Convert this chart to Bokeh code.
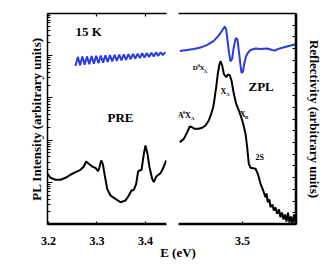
from bokeh.plotting import figure
from bokeh.models import Range1d, LinearAxis, FixedTicker, Label, Div, LinearScale, LogScale, Span
from bokeh.layouts import row, column
from bokeh.embed import file_html
from bokeh.resources import INLINE

# ---------------- data ----------------
pl_left_e = [3.198, 3.2041, 3.2144, 3.2247, 3.2351, 3.2454, 3.2557, 3.266, 3.2729, 3.2777,
             3.2831, 3.29, 3.2969, 3.3024, 3.3052, 3.3086, 3.312, 3.3161, 3.321, 3.3278,
             3.3381, 3.3485, 3.3588, 3.3656, 3.3711, 3.3759, 3.3808, 3.3849, 3.3918, 3.3966,
             3.4, 3.4041, 3.4082, 3.4138, 3.4171, 3.4221, 3.4309, 3.4357, 3.4427]
pl_left_i = [15.9, 12.8, 11.5, 11.5, 12.8, 15.1, 17.4, 19.8, 23.7, 31.1,
             27.4, 23.7, 22.0, 18.3, 22.8, 32.9, 27.4, 14.5, 7.0, 4.87,
             4.06, 3.37, 3.7, 4.87, 6.4, 6.6, 9.2, 18.3, 19.8, 47.3,
             74.5, 47.3, 22.8, 12.1, 10.1, 13.7, 16.4, 20.9, 32.9]
pl_right_e = [3.4235, 3.4284, 3.4326, 3.4357, 3.4387, 3.4415, 3.4467, 3.4509, 3.4549, 3.4589,
              3.4618, 3.4643, 3.4659, 3.4679, 3.4699, 3.4716, 3.4732, 3.4752, 3.4772, 3.4801,
              3.4825, 3.4845, 3.4866, 3.4894, 3.4923, 3.4955, 3.4984, 3.5008, 3.5037, 3.5057,
              3.5077, 3.5098, 3.5159, 3.5187, 3.522, 3.5252, 3.528, 3.5293, 3.5309, 3.5329,
              3.5341, 3.5366, 3.5382, 3.5402, 3.5423, 3.5445, 3.5463, 3.5482, 3.55, 3.5518,
              3.5537, 3.5555, 3.5573, 3.5591, 3.561, 3.5628, 3.5646, 3.5659]
pl_right_i = [89, 107, 154, 210, 202, 185, 185, 196, 222, 291,
              420, 603, 952, 1795, 3720, 5860, 7410, 5860, 3720, 3100,
              3590, 3400, 2585, 1250, 725, 503, 349, 243, 141, 68,
              27.4, 22.0, 20.9, 15.9, 9.2, 6.4, 4.44, 5.43, 3.37, 3.91,
              2.57, 2.98, 2.15, 2.53, 1.79, 2.27, 1.49, 1.92, 1.31, 1.73,
              1.18, 1.92, 1.11, 1.55, 1.06, 1.73, 1.11, 1.31]
refl_left_e = [3.2557, 3.2604, 3.2652, 3.2699, 3.2746, 3.2794, 3.2841, 3.2889, 3.2936, 3.2984,
               3.3031, 3.3078, 3.3126, 3.3173, 3.3221, 3.3268, 3.3315, 3.3363, 3.341, 3.3458,
               3.3505, 3.3553, 3.36, 3.3647, 3.3695, 3.3742, 3.379, 3.3837, 3.3885, 3.3932,
               3.3979, 3.4027, 3.4074, 3.4122, 3.4169, 3.4216, 3.4264, 3.4311, 3.4359, 3.4406]
refl_left_r = [13.52, 14.30, 13.58, 14.33, 13.62, 14.34, 13.67, 14.37, 13.71, 14.39,
               13.76, 14.41, 13.81, 14.44, 13.87, 14.45, 13.91, 14.48, 13.96, 14.50,
               14.00, 14.52, 14.05, 14.54, 14.10, 14.56, 14.15, 14.58, 14.20, 14.61,
               14.24, 14.62, 14.29, 14.65, 14.33, 14.68, 14.39, 14.69, 14.44, 14.72]
refl_right_e = [3.4235, 3.4326, 3.4406, 3.4488, 3.457, 3.465, 3.4711, 3.4752, 3.4784, 3.4801,
                3.4817, 3.4835, 3.4854, 3.4874, 3.4894, 3.4918, 3.4939, 3.4957, 3.4976, 3.4988,
                3.5006, 3.5024, 3.5043, 3.5065, 3.5098, 3.5159, 3.522, 3.5301, 3.5362, 3.5402,
                3.543, 3.5484, 3.5565, 3.5665]
refl_right_r = [14.80, 14.89, 14.97, 15.10, 15.32, 15.66, 16.13, 16.55, 16.89, 16.64,
                15.70, 14.68, 13.91, 14.16, 15.13, 15.91, 15.78, 14.70, 13.57, 12.93,
                13.05, 13.82, 14.33, 14.63, 14.89, 15.02, 14.97, 15.02, 14.89, 14.85,
                14.96, 15.08, 15.23, 15.40]

x_ticks_left = [3.2, 3.3, 3.4]
x_ticks_right = [3.5]
pl_decades = [1, 10, 100, 1000, 10000, 100000]
pl_minor = [m * d for d in pl_decades[:-1] for m in range(2, 10)]
refl_ticks = list(range(1, 18))

FONT = "Liberation Serif"
BLUE = "#2b3bdc"


def base_axis(ax, labels=True, tick_in=3):
    ax.axis_line_color = "black"
    ax.axis_line_width = 1.5
    ax.major_tick_line_color = "black"
    ax.major_tick_line_width = 1.2
    ax.minor_tick_line_color = "black"
    ax.major_tick_in = tick_in
    ax.major_tick_out = 0
    ax.minor_tick_in = 2
    ax.minor_tick_out = 0
    ax.major_label_text_font = FONT
    ax.major_label_text_font_style = "bold"
    ax.axis_label_text_font = FONT
    ax.axis_label_text_font_style = "bold"
    ax.axis_label_text_font_size = "13px"
    ax.axis_label_text_color = "black"
    if labels:
        ax.major_label_text_font_size = "12px"
        ax.major_label_text_color = "black"
        ax.major_label_standoff = 12
    else:
        ax.major_label_text_font_size = "2px"
        ax.major_label_text_color = None
        ax.major_label_standoff = 0


def add_text(p, x, y, text, size=13, yname="default"):
    p.add_layout(Label(x=x, y=y, text=text, text_font=FONT, text_font_style="bold",
                       text_font_size=f"{size}px", text_baseline="middle", y_range_name=yname,
                       text_align="left", text_color="black"))


def add_compound(p, x, y, parts, yname="default"):
    for txt, dx, dy, size in parts:
        p.add_layout(Label(x=x, y=y, x_offset=dx, y_offset=dy, text=txt, text_font=FONT,
                           text_font_style="bold", text_font_size=f"{size}px", y_range_name=yname,
                           text_baseline="middle", text_align="left", text_color="black"))


def edge(p, loc, dim, yname="default"):
    p.add_layout(Span(location=loc, dimension=dim, y_range_name=yname,
                      line_color="black", line_width=1.5))


# ---------------- left panel: PL on the default (log) range ----------------
pL = figure(width=172, height=248, x_range=Range1d(3.198, 3.4433), y_range=Range1d(1, 1e5),
            y_axis_type="log", x_axis_location="below", y_axis_location="left",
            output_backend="svg", toolbar_location=None,
            min_border_left=47, min_border_right=6, min_border_top=13, min_border_bottom=24)
pL.extra_y_ranges = {"refl": Range1d(0, 18)}
pL.extra_y_scales = {"refl": LinearScale()}
pL.outline_line_color = None
pL.grid.visible = False

axL = pL.yaxis[0]
axL.ticker = FixedTicker(ticks=pl_decades, minor_ticks=pl_minor)
axL.axis_label = "PL Intensity (arbitrary units)"
base_axis(axL, labels=False, tick_in=5)
axL.minor_tick_in = 3
axL.axis_label_standoff = 4

axLb = pL.xaxis[0]
axLb.ticker = FixedTicker(ticks=x_ticks_left)
base_axis(axLb, labels=True)

axLt = LinearAxis(ticker=FixedTicker(ticks=x_ticks_left))
base_axis(axLt, labels=False)
pL.add_layout(axLt, "above")

pL.line(pl_left_e, pl_left_i, line_color="black", line_width=2)
pL.line(refl_left_e, refl_left_r, y_range_name="refl", line_color=BLUE, line_width=2)
edge(pL, 1.06, "width")

add_text(pL, 3.2557, 37450, "15 K")
add_text(pL, 3.3216, 334, "PRE")

# ---------------- right panel: reflectivity on the default (linear) range ----------------
pR = figure(width=154, height=248, x_range=Range1d(3.42195, 3.56585), y_range=Range1d(0, 18),
            x_axis_location="below", y_axis_location="right",
            output_backend="svg", toolbar_location=None,
            min_border_left=6, min_border_right=30, min_border_top=13, min_border_bottom=24)
pR.extra_y_ranges = {"pl": Range1d(1, 1e5)}
pR.extra_y_scales = {"pl": LogScale()}
pR.outline_line_color = None
pR.grid.visible = False

axRb = pR.xaxis[0]
axRb.ticker = FixedTicker(ticks=x_ticks_right)
base_axis(axRb, labels=True)

axRt = LinearAxis(ticker=FixedTicker(ticks=x_ticks_right))
base_axis(axRt, labels=False, tick_in=0)
pR.add_layout(axRt, "above")

axRr = pR.yaxis[0]
axRr.ticker = FixedTicker(ticks=refl_ticks)
axRr.axis_label = "Reflectivity (arbitrary units)"
base_axis(axRr, labels=False, tick_in=4)
axRr.axis_label_standoff = 10

pR.line(pl_right_e, pl_right_i, y_range_name="pl", line_color="black", line_width=2)
pR.line(refl_right_e, refl_right_r, line_color=BLUE, line_width=2)
edge(pR, 0.09, "width")
edge(pR, 3.5646, "height")

add_text(pR, 3.50732, 1862, "ZPL", yname="pl")
add_text(pR, 3.51585, 37.7, "2S", size=8, yname="pl")
add_compound(pR, 3.43939, 5111, [("D", 0, 0, 7), ("0", 4.6, 3, 5), ("X", 6.8, 0, 7), ("A", 10.6, -3, 5)], "pl")
add_compound(pR, 3.4211, 372.5, [("A", 0, 0, 8), ("0", 5.0, 3, 5), ("X", 7.2, 0, 8), ("A", 13.0, -3, 5)], "pl")
add_compound(pR, 3.47317, 1380, [("X", 0, 0, 8), ("A", 5.4, -3, 5)], "pl")
add_compound(pR, 3.49671, 411, [("X", 0, 0, 8), ("B", 5.2, -3, 5)], "pl")

xlabel = Div(text="E (eV)", width=100, height=10, margin=(0, 0, 0, 128),
             styles={"font-family": FONT, "font-weight": "bold", "font-size": "13px",
                     "text-align": "center", "line-height": "10px", "color": "black"})

layout = column(row(pL, pR), xlabel)
open("out.html", "w").write(file_html(layout, INLINE))
